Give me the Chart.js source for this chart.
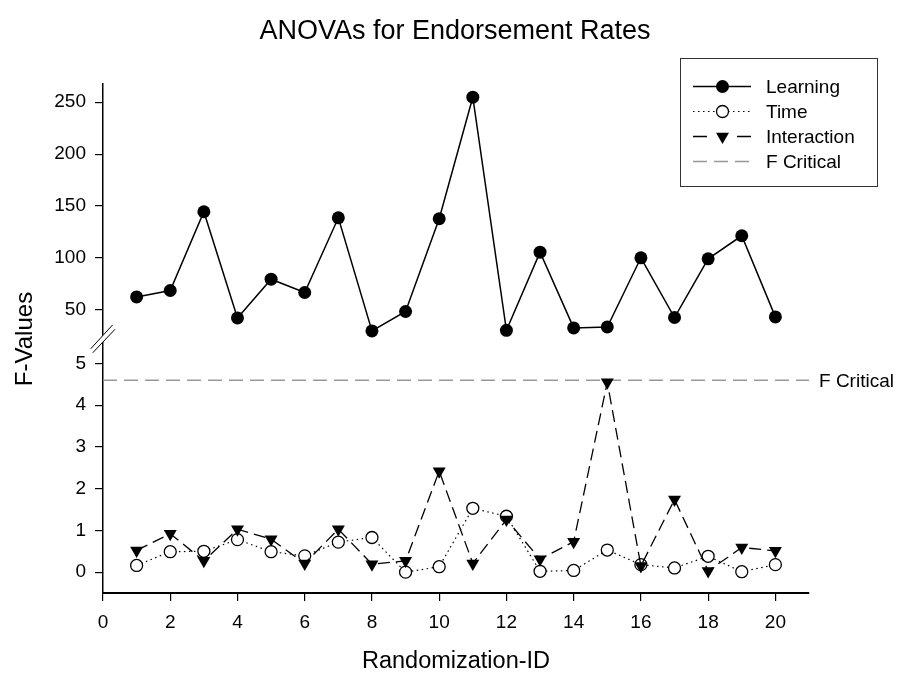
<!DOCTYPE html>
<html>
<head>
<meta charset="utf-8">
<script src="https://cdn.jsdelivr.net/npm/chart.js@4.4.1/dist/chart.umd.min.js"></script>
<style>
  html, body { margin: 0; padding: 0; background: #fff; }
  #wrap { width: 901px; height: 677px; position: relative; }
</style>
</head>
<body>
<div id="wrap"><canvas id="c" width="901" height="677"></canvas></div>
<script>
// Randomization IDs and the F-values of the three effects
const ids = [1, 2, 3, 4, 5, 6, 7, 8, 9, 10, 11, 12, 13, 14, 15, 16, 17, 18, 19, 20];
const learning = [62.5, 68.7, 144.5, 42.3, 79.6, 66.8, 138.7, 29.8, 48.5, 137.8,
                  254.8, 30.4, 105.6, 32.7, 33.6, 100.2, 42.7, 99.2, 121.4, 43.3];
const time = [0.16, 0.49, 0.50, 0.78, 0.49, 0.39, 0.72, 0.83, 0.00, 0.13,
              1.53, 1.34, 0.02, 0.04, 0.53, 0.18, 0.10, 0.38, 0.01, 0.18];
const interaction = [0.52, 0.92, 0.27, 1.03, 0.79, 0.21, 1.03, 0.19, 0.27, 2.42,
                     0.21, 1.26, 0.31, 0.73, 4.55, 0.15, 1.74, 0.03, 0.59, 0.51];
const fCritical = 4.6;

// Axis ticks
const xTicks = [0, 2, 4, 6, 8, 10, 12, 14, 16, 18, 20];
const upperTicks = [50, 100, 150, 200, 250];
const lowerTicks = [0, 1, 2, 3, 4, 5];

const FONT = "'Liberation Sans', Arial, Helvetica, sans-serif";
Chart.defaults.font.family = FONT;
Chart.defaults.color = '#000';

const toPoints = vals => ids.map((id, i) => ({ x: id, y: vals[i] }));

// Title, axis title, reference label, legend box and axis break
const decorations = {
  id: 'decorations',
  afterDraw(chart) {
    const ctx = chart.ctx;
    const area = chart.chartArea;
    const yUp = chart.scales.yUp;
    const yLow = chart.scales.yLow;
    ctx.save();
    ctx.fillStyle = '#000';

    // chart title
    ctx.font = '27px ' + FONT;
    ctx.textAlign = 'center';
    ctx.textBaseline = 'alphabetic';
    ctx.fillText('ANOVAs for Endorsement Rates', 455, 38.5);

    // y axis title, spanning both panels
    ctx.save();
    ctx.translate(31.5, 339);
    ctx.rotate(-Math.PI / 2);
    ctx.font = '24px ' + FONT;
    ctx.fillText('F-Values', 0, 0);
    ctx.restore();

    // label next to the critical value line
    ctx.font = '19px ' + FONT;
    ctx.textAlign = 'left';
    ctx.fillText('F Critical', area.right + 10, yLow.getPixelForValue(fCritical) + 6.5);

    // axis break marks where the two panels meet
    const bx = area.left;
    const by = yUp.bottom;
    ctx.beginPath();
    ctx.moveTo(bx - 12.3, by + 10.3);
    ctx.lineTo(bx + 9.7, by - 13.7);
    ctx.lineTo(bx + 12, by - 9.2);
    ctx.lineTo(bx - 10.3, by + 14.3);
    ctx.closePath();
    ctx.fillStyle = '#fff';
    ctx.fill();
    ctx.strokeStyle = '#000';
    ctx.lineWidth = 1;
    ctx.beginPath();
    ctx.moveTo(bx - 12.3, by + 10.3);
    ctx.lineTo(bx + 9.7, by - 13.7);
    ctx.moveTo(bx - 10.3, by + 14.3);
    ctx.lineTo(bx + 12, by - 9.2);
    ctx.stroke();

    // legend
    ctx.strokeStyle = '#333';
    ctx.lineWidth = 1;
    ctx.strokeRect(680.5, 58.5, 197, 128);
    const rows = [86.5, 111.5, 136.5, 161.5];
    const x0 = 693, x1 = 751, xm = 722.5, tx = 766;
    ctx.font = '19px ' + FONT;
    ctx.fillStyle = '#000';

    // Learning
    ctx.setLineDash([]);
    ctx.strokeStyle = '#000';
    ctx.lineWidth = 1.5;
    ctx.beginPath(); ctx.moveTo(x0, rows[0]); ctx.lineTo(x1, rows[0]); ctx.stroke();
    ctx.beginPath(); ctx.arc(xm, rows[0], 6.5, 0, Math.PI * 2); ctx.fill();
    ctx.fillText('Learning', tx, rows[0] + 6);

    // Time
    ctx.setLineDash([1.5, 3.5]);
    ctx.lineWidth = 1.2;
    ctx.beginPath(); ctx.moveTo(x0, rows[1]); ctx.lineTo(x1, rows[1]); ctx.stroke();
    ctx.setLineDash([]);
    ctx.beginPath(); ctx.arc(xm, rows[1], 6, 0, Math.PI * 2);
    ctx.fillStyle = '#fff'; ctx.fill();
    ctx.lineWidth = 1.3; ctx.stroke();
    ctx.fillStyle = '#000';
    ctx.fillText('Time', tx, rows[1] + 6);

    // Interaction
    ctx.lineWidth = 1.3;
    ctx.beginPath();
    ctx.moveTo(x0, rows[2]); ctx.lineTo(x0 + 14, rows[2]);
    ctx.moveTo(x1 - 14, rows[2]); ctx.lineTo(x1, rows[2]);
    ctx.stroke();
    const r = 7.5;
    ctx.beginPath();
    ctx.moveTo(xm - r * Math.sin(Math.PI / 3), rows[2] - r / 2);
    ctx.lineTo(xm + r * Math.sin(Math.PI / 3), rows[2] - r / 2);
    ctx.lineTo(xm, rows[2] + r);
    ctx.closePath();
    ctx.fill();
    ctx.fillText('Interaction', tx, rows[2] + 6);

    // F Critical
    ctx.strokeStyle = '#999';
    ctx.lineWidth = 1.5;
    ctx.setLineDash([14, 7]);
    ctx.beginPath(); ctx.moveTo(x0, rows[3]); ctx.lineTo(x1, rows[3]); ctx.stroke();
    ctx.setLineDash([]);
    ctx.fillText('F Critical', tx, rows[3] + 6);

    ctx.restore();
  }
};

const yCommon = {
  type: 'linear',
  position: 'left',
  stack: 'fvalues',
  stackWeight: 1,
  afterFit: s => { s.width = 103; },
  border: { display: true, color: '#000', width: 1.5 },
  grid: { display: true, drawOnChartArea: false, drawTicks: true, tickLength: 8, color: '#000', lineWidth: 1.2 },
  ticks: { font: { size: 19 }, color: '#000', padding: 9 }
};

new Chart(document.getElementById('c'), {
  type: 'line',
  data: {
    datasets: [
      {
        label: 'Learning',
        data: toPoints(learning),
        yAxisID: 'yUp',
        order: 1,
        borderColor: '#000',
        borderWidth: 1.5,
        pointRadius: 6.5,
        pointBackgroundColor: '#000',
        pointBorderColor: '#000',
        pointBorderWidth: 0
      },
      {
        label: 'Time',
        data: toPoints(time),
        yAxisID: 'yLow',
        order: 3,
        borderColor: '#000',
        borderWidth: 1.2,
        borderDash: [1.5, 3.5],
        pointRadius: 6,
        pointStyle: 'circle',
        pointBackgroundColor: '#fff',
        pointBorderColor: '#000',
        pointBorderWidth: 1.3
      },
      {
        label: 'Interaction',
        data: toPoints(interaction),
        yAxisID: 'yLow',
        order: 2,
        borderColor: '#000',
        borderWidth: 1.3,
        borderDash: [12, 6],
        pointRadius: 7.5,
        pointStyle: 'triangle',
        pointRotation: 180,
        pointBackgroundColor: '#000',
        pointBorderColor: '#000',
        pointBorderWidth: 0
      },
      {
        label: 'F Critical',
        data: [{ x: 0, y: fCritical }, { x: 21, y: fCritical }],
        yAxisID: 'yLow',
        order: 4,
        borderColor: '#999',
        borderWidth: 1.5,
        borderDash: [14, 7],
        pointRadius: 0
      }
    ]
  },
  options: {
    responsive: false,
    devicePixelRatio: 1,
    animation: false,
    events: [],
    layout: { padding: { top: 84, right: 92, left: 0, bottom: 0 } },
    plugins: {
      legend: { display: false },
      tooltip: { enabled: false },
      title: { display: false }
    },
    scales: {
      x: {
        type: 'linear',
        position: 'bottom',
        min: 0,
        max: 21,
        afterBuildTicks: s => { s.ticks = xTicks.map(v => ({ value: v })); },
        afterFit: s => { s.height = 84; },
        border: { display: true, color: '#000', width: 2 },
        grid: { display: true, drawOnChartArea: false, drawTicks: true, tickLength: 8, color: '#000', lineWidth: 1.2 },
        ticks: { font: { size: 19 }, color: '#000', padding: 10, maxRotation: 0 },
        title: { display: true, text: 'Randomization-ID', font: { size: 23.5 }, color: '#000', padding: { top: 0, bottom: 1 } }
      },
      // the lower panel is listed first so that it is stacked at the bottom
      yLow: Object.assign({}, yCommon, {
        min: -0.5,
        max: 5.6,
        afterBuildTicks: s => { s.ticks = lowerTicks.map(v => ({ value: v })); }
      }),
      yUp: Object.assign({}, yCommon, {
        min: 22.5,
        max: 267.5,
        afterBuildTicks: s => { s.ticks = upperTicks.map(v => ({ value: v })); }
      })
    }
  },
  plugins: [decorations]
});
</script>
</body>
</html>
